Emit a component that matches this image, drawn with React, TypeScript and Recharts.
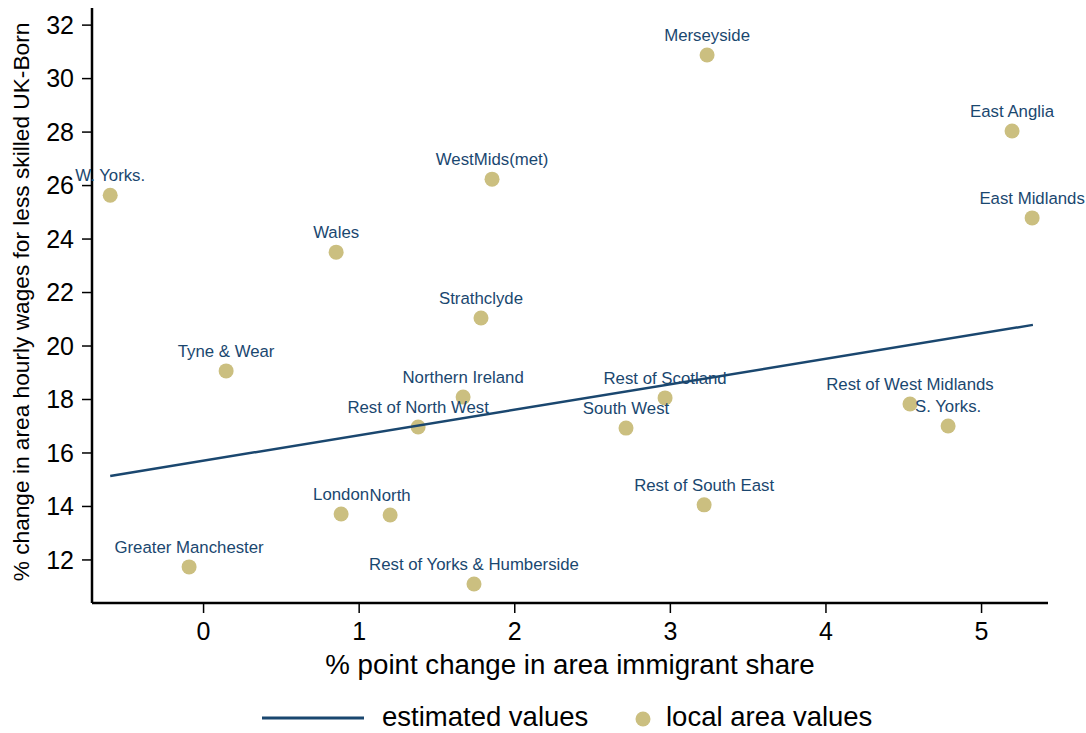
import React from "react";
import { ScatterChart, Scatter, XAxis, YAxis } from "recharts";

const regions = [
  "W. Yorks.", "Merseyside", "East Anglia", "East Midlands", "WestMids(met)", "Wales",
  "Strathclyde", "Tyne & Wear", "Northern Ireland", "Rest of Scotland", "Rest of North West",
  "South West", "Rest of West Midlands", "S. Yorks.", "Rest of South East", "London", "North",
  "Greater Manchester", "Rest of Yorks & Humberside",
];
const immigrantShareChange = [
  -0.6, 3.236, 5.196, 5.325, 1.854, 0.852, 1.783, 0.145, 1.668, 2.966, 1.379, 2.715, 4.54, 4.785,
  3.217, 0.884, 1.199, -0.093, 1.738,
];
const wageChange = [
  25.64, 30.88, 28.04, 24.79, 26.24, 23.51, 21.05, 19.07, 18.09, 18.06, 16.97, 16.93, 17.83, 17.01,
  14.06, 13.72, 13.68, 11.74, 11.1,
];
const fitX = [-0.6, 5.33];
const fitY = [15.14, 20.79];
const xTicks = [0, 1, 2, 3, 4, 5];
const yTicks = [12, 14, 16, 18, 20, 22, 24, 26, 28, 30, 32];

const NAVY = "#1a476f";
const KHAKI = "#cbbf80";
const FONT = "'Liberation Sans', Arial, Helvetica, sans-serif";

const points = regions.map((name, i) => ({ name, x: immigrantShareChange[i], y: wageChange[i] }));
const fitLine = fitX.map((x, i) => ({ x, y: fitY[i] }));

const PointShape = (props: any) => {
  const { cx, cy, payload } = props;
  if (cx == null || cy == null) return null;
  return (
    <g>
      <circle cx={cx} cy={cy} r={7.5} fill={KHAKI} />
      <text x={cx} y={cy - 14} textAnchor="middle" fill={NAVY} fontSize={16.8} fontFamily={FONT}>
        {payload.name}
      </text>
    </g>
  );
};

const NoShape = () => <g />;

export default function App() {
  return (
    <div style={{ position: "absolute", left: 0, top: 0, width: 1086, height: 733, background: "#fff" }}>
      <ScatterChart width={1086} height={733} margin={{ top: 8, right: 38, bottom: 90, left: 0 }}>
        <XAxis
          type="number"
          dataKey="x"
          domain={[-0.717, 5.427]}
          ticks={xTicks}
          height={40}
          axisLine={{ stroke: "#000", strokeWidth: 2.5 }}
          tickLine={{ stroke: "#000", strokeWidth: 1.5 }}
          tickSize={10}
          tickMargin={9}
          tick={{ fill: "#000", fontSize: 25, fontFamily: FONT }}
        />
        <YAxis
          type="number"
          dataKey="y"
          domain={[10.39, 32.64]}
          ticks={yTicks}
          width={92}
          axisLine={{ stroke: "#000", strokeWidth: 2.5 }}
          tickLine={{ stroke: "#000", strokeWidth: 1.5 }}
          tickSize={10}
          tickMargin={8}
          tick={{ fill: "#000", fontSize: 25, fontFamily: FONT }}
        />
        <Scatter data={points} shape={<PointShape />} isAnimationActive={false} />
        <Scatter
          data={fitLine}
          line={{ stroke: NAVY, strokeWidth: 2.5 }}
          shape={<NoShape />}
          isAnimationActive={false}
        />
      </ScatterChart>
      <svg
        width={1086}
        height={733}
        style={{ position: "absolute", left: 0, top: 0, pointerEvents: "none" }}
      >
        <text
          x={0}
          y={0}
          transform="translate(29,302) rotate(-90)"
          textAnchor="middle"
          fontSize={22.7}
          fontFamily={FONT}
          fill="#000"
        >
          % change in area hourly wages for less skilled UK-Born
        </text>
        <text x={570} y={674} textAnchor="middle" fontSize={27.7} fontFamily={FONT} fill="#000">
          % point change in area immigrant share
        </text>
        <line x1={262} y1={718} x2={364} y2={718} stroke={NAVY} strokeWidth={3} />
        <text x={382} y={726} fontSize={27.5} fontFamily={FONT} fill="#000">
          estimated values
        </text>
        <circle cx={643} cy={719} r={7.5} fill={KHAKI} />
        <text x={666} y={726} fontSize={27.5} fontFamily={FONT} fill="#000">
          local area values
        </text>
      </svg>
    </div>
  );
}
